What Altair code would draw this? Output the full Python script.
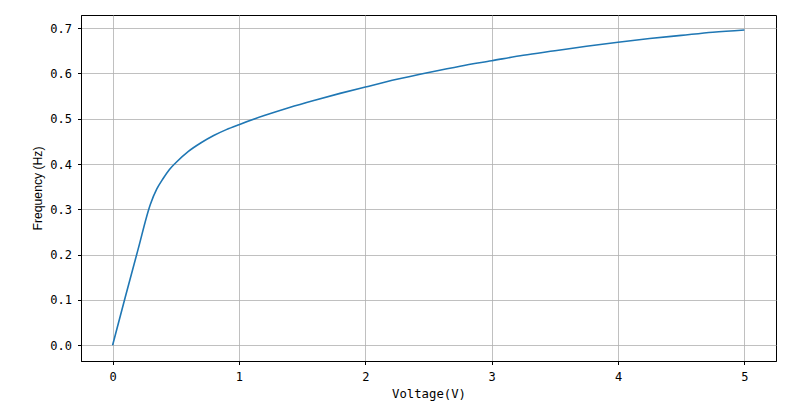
import altair as alt
import pandas as pd

voltage = [0, 0.1, 0.2, 0.3, 0.35, 0.4, 0.45, 0.5, 0.6, 0.7, 0.8, 0.9, 1.0,
           1.2, 1.4, 1.6, 1.8, 2.0, 2.25, 2.5, 2.75, 3.0, 3.25, 3.5, 3.75,
           4.0, 4.25, 4.5, 4.75, 5.0]
frequency = [0.0, 0.106, 0.21, 0.312, 0.345, 0.368, 0.388, 0.403, 0.428, 0.447,
             0.463, 0.476, 0.487, 0.507, 0.525, 0.541, 0.556, 0.570, 0.587,
             0.602, 0.616, 0.628, 0.640, 0.650, 0.660, 0.669, 0.677, 0.684,
             0.691, 0.696]
x_ticks = [0, 1, 2, 3, 4, 5]
y_ticks = [0.0, 0.1, 0.2, 0.3, 0.4, 0.5, 0.6, 0.7]

df = pd.DataFrame({"Voltage": voltage, "Frequency": frequency})

MONO = "DejaVu Sans Mono"
SANS = "Liberation Sans"

chart = alt.Chart(df).mark_line(color="#1f77b4", strokeWidth=1.6, clip=True,
                                interpolate="monotone").encode(
    x=alt.X("Voltage:Q",
            scale=alt.Scale(domain=[-0.25, 5.25], nice=False, zero=False),
            axis=alt.Axis(values=x_ticks, format="d", title="Voltage(V)",
                          titleFont=MONO, titleFontSize=12.3,
                          labelPadding=7, titlePadding=5)),
    y=alt.Y("Frequency:Q",
            scale=alt.Scale(domain=[-0.0347, 0.729], nice=False, zero=False),
            axis=alt.Axis(values=y_ticks, format=".1f", title="Frequency (Hz)",
                          titleFont=SANS, titleFontSize=12.2,
                          labelPadding=6, titlePadding=5)),
).properties(
    width=695, height=346,
    autosize=alt.AutoSizeParams(type="none"),
    padding={"left": 73, "top": 7, "right": 16, "bottom": 40},
).configure_view(
    stroke="black", strokeWidth=1
).configure_axis(
    domainColor="black", domainWidth=1,
    tickColor="black", tickSize=3.5, tickWidth=1,
    grid=True, gridColor="#b0b0b0", gridWidth=0.8,
    labelFont=MONO, labelFontSize=12, labelColor="black",
    titleFontWeight="normal", titleColor="black",
)

chart.save("out.html", embed_options={"renderer": "svg", "actions": False})
